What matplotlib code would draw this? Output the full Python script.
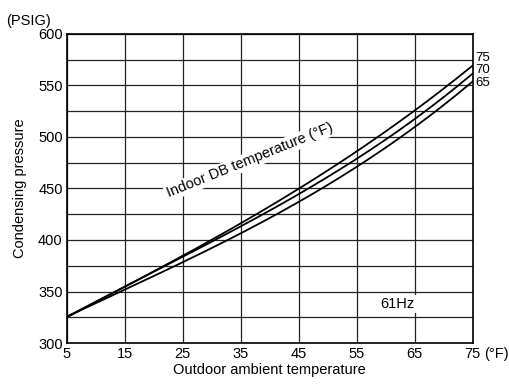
import matplotlib.pyplot as plt
import numpy as np

plt.rcParams['font.family'] = ['Liberation Sans', 'DejaVu Sans']

temp_out = [5, 15, 25, 35, 45, 55, 65, 75]
p_75 = [326, 353, 386, 417, 449, 485, 527, 569]
p_70 = [326, 352, 385, 414, 445, 478, 517, 562]
p_65 = [326, 351, 378, 408, 437, 470, 510, 554]
curvas = [("75", p_75), ("70", p_70), ("65", p_65)]
pos_etiqueta = {"75": 576.5, "70": 564.5, "65": 552.5}

fig = plt.figure(figsize=(5.1, 3.85), dpi=100)
ax = fig.add_axes([0.131, 0.109, 0.796, 0.803])

xs = np.linspace(5, 75, 200)
for nombre, p in curvas:
    # suavizado simple con polinomio
    coef = np.polyfit(temp_out, p, 3)
    ax.plot(xs, np.polyval(coef, xs), color="k", lw=1.3, zorder=3)

ax.set_xlim(5, 75)
ax.set_ylim(300, 600)
ax.set_xticks(range(5, 76, 10))
ax.set_yticks(range(300, 601, 50))
ax.set_yticks(range(300, 601, 25), minor=True)
ax.tick_params(which="both", length=0, labelsize=10.5, pad=3)
ax.grid(which="both", color="#222222", lw=0.9)
for s in ax.spines.values():
    s.set_linewidth(1.2)

for nombre, p in curvas:
    ax.text(75.5, pos_etiqueta[nombre], nombre, fontsize=9.5, ha="left",
            va="center", clip_on=False)

ax.annotate("(°F)", xy=(75, 300), xytext=(8.5, -3), textcoords="offset points",
            fontsize=10.5, ha="left", va="top", annotation_clip=False)
ax.text(-5.4, 606, "(PSIG)", fontsize=10.5, ha="left", va="bottom", clip_on=False)

ax.text(36.5, 477, "Indoor DB temperature (°F)", fontsize=10.5, rotation=22,
        ha="center", va="center", zorder=4,
        bbox=dict(facecolor="white", edgecolor="none", pad=1))
ax.text(62, 338, "61Hz", fontsize=10.5, ha="center", va="center", zorder=4,
        bbox=dict(facecolor="white", edgecolor="none", pad=1.5))

ax.set_xlabel("Outdoor ambient temperature", fontsize=10.5, labelpad=1)
ax.set_ylabel("Condensing pressure", fontsize=10.5, labelpad=8)

plt.savefig("out.png", dpi=100)
